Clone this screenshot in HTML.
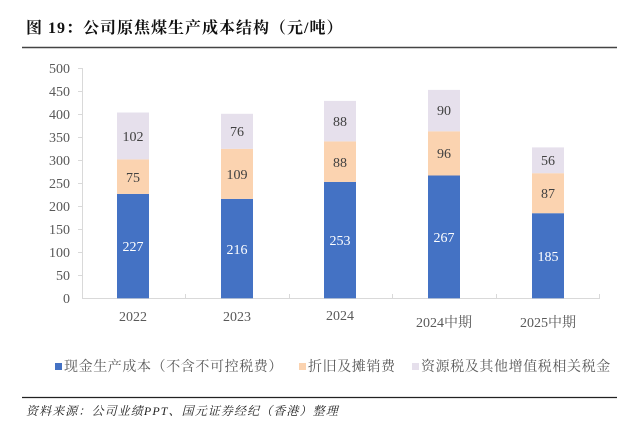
<!DOCTYPE html>
<html><head><meta charset="utf-8"><style>
body{margin:0;background:#fff;width:639px;height:433px;overflow:hidden}
svg{display:block}
</style></head><body>
<svg width="639" height="433" xmlns="http://www.w3.org/2000/svg" font-family="'Liberation Serif','Noto Serif CJK SC',serif">
<text x="26" y="33" font-size="16" font-weight="bold" fill="#111" letter-spacing="1">图 19：公司原焦煤生产成本结构（元/吨）</text>
<line x1="22" y1="47.5" x2="617" y2="47.5" stroke="#444" stroke-width="1.5"/>
<g stroke="#d9d9d9" stroke-width="1">
<line x1="82.5" y1="68" x2="82.5" y2="298.5"/>
<line x1="82" y1="298.5" x2="600" y2="298.5"/>
<line x1="78" y1="68.5" x2="82" y2="68.5"/><line x1="78" y1="91.5" x2="82" y2="91.5"/><line x1="78" y1="114.5" x2="82" y2="114.5"/><line x1="78" y1="137.5" x2="82" y2="137.5"/><line x1="78" y1="160.5" x2="82" y2="160.5"/><line x1="78" y1="183.5" x2="82" y2="183.5"/><line x1="78" y1="206.5" x2="82" y2="206.5"/><line x1="78" y1="229.5" x2="82" y2="229.5"/><line x1="78" y1="252.5" x2="82" y2="252.5"/><line x1="78" y1="275.5" x2="82" y2="275.5"/>
<line x1="185.5" y1="298" x2="185.5" y2="294"/><line x1="289.5" y1="298" x2="289.5" y2="294"/><line x1="392.5" y1="298" x2="392.5" y2="294"/><line x1="496.5" y1="298" x2="496.5" y2="294"/><line x1="599.5" y1="298" x2="599.5" y2="294"/>
</g>
<g font-size="14" fill="#595959" text-anchor="end">
<text x="70" y="73">500</text><text x="70" y="96">450</text><text x="70" y="119">400</text><text x="70" y="142">350</text><text x="70" y="165">300</text><text x="70" y="188">250</text><text x="70" y="211">200</text><text x="70" y="234">150</text><text x="70" y="257">100</text><text x="70" y="280">50</text><text x="70" y="303">0</text>
</g>
<g>
<rect x="117" y="193.9" width="32" height="104.4" fill="#4472c4"/>
<rect x="117" y="159.4" width="32" height="34.5" fill="#fbd3b0"/>
<rect x="117" y="112.5" width="32" height="46.9" fill="#e6e0ec"/>
<rect x="221" y="198.9" width="32" height="99.4" fill="#4472c4"/>
<rect x="221" y="148.8" width="32" height="50.1" fill="#fbd3b0"/>
<rect x="221" y="113.8" width="32" height="35" fill="#e6e0ec"/>
<rect x="324" y="181.9" width="32" height="116.4" fill="#4472c4"/>
<rect x="324" y="141.4" width="32" height="40.5" fill="#fbd3b0"/>
<rect x="324" y="100.9" width="32" height="40.5" fill="#e6e0ec"/>
<rect x="428" y="175.5" width="32" height="122.8" fill="#4472c4"/>
<rect x="428" y="131.3" width="32" height="44.2" fill="#fbd3b0"/>
<rect x="428" y="89.9" width="32" height="41.4" fill="#e6e0ec"/>
<rect x="532" y="213.2" width="32" height="85.1" fill="#4472c4"/>
<rect x="532" y="173.2" width="32" height="40" fill="#fbd3b0"/>
<rect x="532" y="147.4" width="32" height="25.8" fill="#e6e0ec"/>
</g>
<g font-size="14" text-anchor="middle">
<g fill="#fff"><text x="133" y="251">227</text><text x="237" y="254">216</text><text x="340" y="245">253</text><text x="444" y="242">267</text><text x="548" y="261">185</text></g>
<g fill="#404040"><text x="133" y="182">75</text><text x="237" y="179">109</text><text x="340" y="167">88</text><text x="444" y="158">96</text><text x="548" y="198">87</text>
<text x="133" y="141">102</text><text x="237" y="136">76</text><text x="340" y="126">88</text><text x="444" y="115">90</text><text x="548" y="165">56</text></g>
</g>
<g font-size="14" fill="#595959" text-anchor="middle">
<text x="133" y="321">2022</text><text x="237" y="321">2023</text><text x="340" y="320">2024</text><text x="444" y="327">2024中期</text><text x="548" y="327">2025中期</text>
</g>
<g font-size="14" fill="#595959" letter-spacing="0.6">
<rect x="55" y="363" width="7" height="7" fill="#4472c4"/><text x="64" y="371">现金生产成本（不含不可控税费）</text>
<rect x="299" y="363" width="7" height="7" fill="#fbd3b0"/><text x="308" y="371">折旧及摊销费</text>
<rect x="412" y="363" width="7" height="7" fill="#e6e0ec"/><text x="421" y="371">资源税及其他增值税相关税金</text>
</g>
<line x1="22" y1="397.5" x2="617" y2="397.5" stroke="#222" stroke-width="1.2"/>
<text x="26" y="415" font-size="12" font-style="italic" fill="#222" letter-spacing="1.1">资料来源：公司业绩PPT、国元证券经纪（香港）整理</text>
</svg>
</body></html>
